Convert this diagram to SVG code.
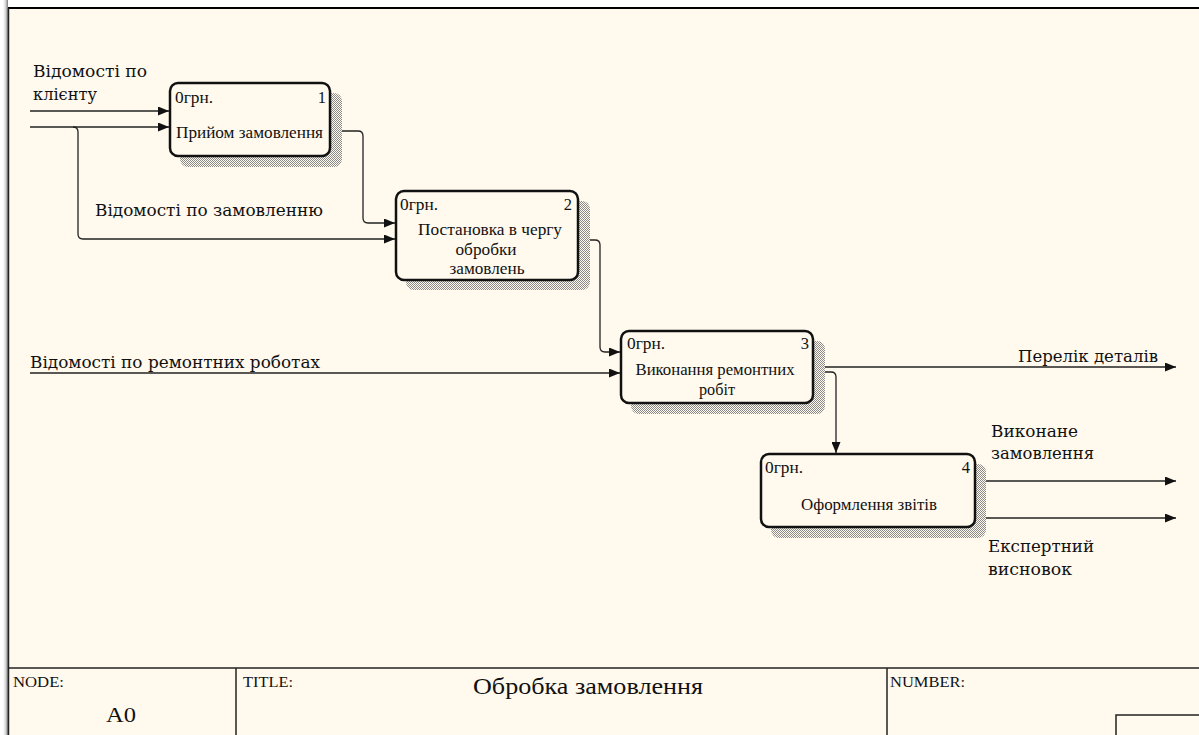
<svg xmlns="http://www.w3.org/2000/svg" width="1199" height="735" viewBox="0 0 1199 735">
<defs>
<pattern id="hatch" width="2" height="2" patternUnits="userSpaceOnUse">
<rect width="2" height="2" fill="#fff9ee"/>
<rect x="0" y="0" width="1" height="1" fill="#8a8a8a"/>
<rect x="1" y="1" width="1" height="1" fill="#8a8a8a"/>
</pattern>
<linearGradient id="side" x1="0" x2="1" y1="0" y2="0">
<stop offset="0" stop-color="#ffffff"/>
<stop offset="0.5" stop-color="#d8d8d8"/>
<stop offset="1" stop-color="#7a7a7a"/>
</linearGradient>
<marker id="ah" viewBox="0 0 11 9" refX="11" refY="4.5" markerWidth="11" markerHeight="9" markerUnits="userSpaceOnUse" orient="auto">
<path d="M0,0 L11,4.5 L0,9 Z" fill="#111"/>
</marker>
</defs>
<style>
.box{fill:#fff9ee;stroke:#111;stroke-width:2.5}
.shadow{fill:url(#hatch)}
.bt{font-family:"Liberation Serif","Times New Roman",serif;font-size:16.5px;fill:#111}
.lbl{font-family:"DejaVu Serif","Liberation Serif",serif;font-size:16px;fill:#111}
.con{fill:none;stroke:#222;stroke-width:1.3}
.frame{stroke:#222;stroke-width:1.5;fill:none}
.ft{font-family:"Liberation Serif","Times New Roman",serif;fill:#111}
</style>
<rect width="1199" height="735" fill="#ffffff"/>
<rect x="3" y="0" width="5" height="735" fill="url(#side)"/>
<rect x="8" y="8" width="1191" height="727" fill="#fff9ee"/>
<line x1="8" y1="8" x2="1199" y2="8" stroke="#000" stroke-width="2"/>
<line x1="8.5" y1="8" x2="8.5" y2="735" stroke="#222" stroke-width="1.5"/>

<g id="connectors">
<path class="con" d="M30,111 H169" marker-end="url(#ah)"/>
<path class="con" d="M30,127 H169" marker-end="url(#ah)"/>
<path class="con" d="M73,127 Q78,127 78,132 V234 Q78,239 83,239 H395" marker-end="url(#ah)"/>
<path class="con" d="M330,131 H358 Q363,131 363,136 V218 Q363,223 368,223 H395" marker-end="url(#ah)"/>
<path class="con" d="M578,240 H595 Q600,240 600,245 V347 Q600,352 605,352 H620" marker-end="url(#ah)"/>
<path class="con" d="M30,373 H620" marker-end="url(#ah)"/>
<path class="con" d="M813,367 H1176" marker-end="url(#ah)"/>
<path class="con" d="M813,372 H831 Q836,372 836,377 V453" marker-end="url(#ah)"/>
<path class="con" d="M975,481 H1176" marker-end="url(#ah)"/>
<path class="con" d="M975,518 H1176" marker-end="url(#ah)"/>
<text class="lbl" x="33" y="77" textLength="114" lengthAdjust="spacingAndGlyphs">Відомості по</text>
<text class="lbl" x="33" y="100" textLength="64" lengthAdjust="spacingAndGlyphs">клієнту</text>
<text class="lbl" x="95" y="216" textLength="228" lengthAdjust="spacingAndGlyphs">Відомості по замовленню</text>
<text class="lbl" x="30" y="368" textLength="290" lengthAdjust="spacingAndGlyphs">Відомості по ремонтних роботах</text>
<text class="lbl" x="1018" y="362" textLength="140" lengthAdjust="spacingAndGlyphs">Перелік деталів</text>
<text class="lbl" x="991" y="437" textLength="87" lengthAdjust="spacingAndGlyphs">Виконане</text>
<text class="lbl" x="991" y="459" textLength="103" lengthAdjust="spacingAndGlyphs">замовлення</text>
<text class="lbl" x="988" y="552" textLength="106" lengthAdjust="spacingAndGlyphs">Експертний</text>
<text class="lbl" x="988" y="575" textLength="84" lengthAdjust="spacingAndGlyphs">висновок</text>
</g>

<g id="node1">
<rect class="shadow" x="180" y="93" width="162" height="74" rx="8"/>
<rect class="box" x="170" y="83" width="160" height="73" rx="8"/>
<text class="bt" x="175" y="103" textLength="38" lengthAdjust="spacingAndGlyphs">0грн.</text>
<text class="bt" x="326" y="103" text-anchor="end">1</text>
<text class="bt" x="176" y="138" textLength="147" lengthAdjust="spacingAndGlyphs">Прийом замовлення</text>
</g>

<g id="node2">
<rect class="shadow" x="406" y="201" width="184" height="89" rx="8"/>
<rect class="box" x="396" y="191" width="182" height="89" rx="8"/>
<text class="bt" x="400" y="210" textLength="38" lengthAdjust="spacingAndGlyphs">0грн.</text>
<text class="bt" x="572" y="210" text-anchor="end">2</text>
<text class="bt" x="490" y="235" text-anchor="middle" textLength="144" lengthAdjust="spacingAndGlyphs">Постановка в чергу</text>
<text class="bt" x="486" y="255" text-anchor="middle" textLength="61" lengthAdjust="spacingAndGlyphs">обробки</text>
<text class="bt" x="487" y="274" text-anchor="middle" textLength="75" lengthAdjust="spacingAndGlyphs">замовлень</text>
</g>

<g id="node3">
<rect class="shadow" x="631" y="341" width="194" height="73" rx="8"/>
<rect class="box" x="621" y="331" width="192" height="72" rx="8"/>
<text class="bt" x="627" y="349" textLength="38" lengthAdjust="spacingAndGlyphs">0грн.</text>
<text class="bt" x="809" y="349" text-anchor="end">3</text>
<text class="bt" x="715" y="375" text-anchor="middle" font-size="15.5" textLength="159" lengthAdjust="spacingAndGlyphs">Виконання ремонтних</text>
<text class="bt" x="717" y="395" text-anchor="middle" font-size="15.5" textLength="36" lengthAdjust="spacingAndGlyphs">робіт</text>
</g>

<g id="node4">
<rect class="shadow" x="771" y="464" width="215" height="74" rx="8"/>
<rect class="box" x="761" y="454" width="214" height="73" rx="8"/>
<text class="bt" x="765" y="473" textLength="38" lengthAdjust="spacingAndGlyphs">0грн.</text>
<text class="bt" x="970" y="473" text-anchor="end">4</text>
<text class="bt" x="869" y="510" text-anchor="middle" textLength="136" lengthAdjust="spacingAndGlyphs">Оформлення звітів</text>
</g>

<g id="titleblock">
<line class="frame" x1="8" y1="668" x2="1199" y2="668"/>
<line class="frame" x1="236" y1="668" x2="236" y2="735"/>
<line class="frame" x1="887" y1="668" x2="887" y2="735"/>
<path class="frame" d="M1116,735 V715 H1199"/>
<text class="ft" x="13" y="687" font-size="15" textLength="51" lengthAdjust="spacingAndGlyphs">NODE:</text>
<text class="ft" x="106" y="722" font-size="22" textLength="30" lengthAdjust="spacingAndGlyphs">A0</text>
<text class="ft" x="243" y="687" font-size="15" textLength="50" lengthAdjust="spacingAndGlyphs">TITLE:</text>
<text class="ft" x="473" y="694" font-size="23" textLength="230" lengthAdjust="spacingAndGlyphs">Обробка замовлення</text>
<text class="ft" x="890" y="687" font-size="15" textLength="75" lengthAdjust="spacingAndGlyphs">NUMBER:</text>
</g>
</svg>
